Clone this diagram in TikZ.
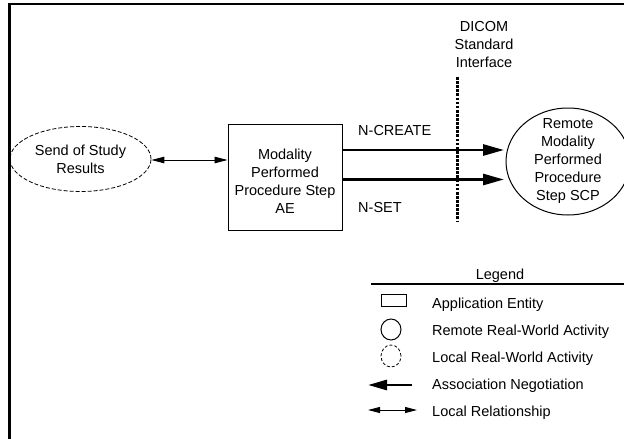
\documentclass[tikz,border=0pt]{standalone}
\usepackage{fontspec}
\setmainfont{Liberation Sans}
\usetikzlibrary{shapes.geometric,arrows.meta}

\begin{document}
\begin{tikzpicture}
  [x=1pt,y=-1pt,
   every node/.style={font=\fontsize{14.5}{18}\selectfont,align=center,inner sep=0pt},
   assoc/.style={line width=2.7pt,-{Triangle[length=21pt,width=11pt]}},
   localrel/.style={line width=0.9pt,{Triangle[length=13pt,width=6.5pt]}-{Triangle[length=13pt,width=6.5pt]}},
   localact/.style={ellipse,draw,dash pattern=on 4pt off 2pt,line width=0.8pt},
   remoteact/.style={ellipse,draw,line width=1pt},
   appent/.style={rectangle,draw,line width=1pt}]
  \useasboundingbox (0,0) rectangle (624,439);
  \draw[line width=2.7pt] (9.5,439) -- (9.5,4) -- (624,4);

  \node[localact,minimum width=141pt,minimum height=65pt] (send) at (80.5,159) {Send of Study\\Results};
  \node[appent,minimum width=114pt,minimum height=106pt] (mpps) at (285,177)
    {\rule{0pt}{19.6pt}Modality\\Performed\\Procedure Step\\AE};
  \node (scp) at (568,161.5) {Remote\\Modality\\Performed\\Procedure\\Step SCP};
  \draw[line width=1pt] (scp.center) ellipse [x radius=62pt,y radius=53.5pt];
  \node (dicom) at (484,45) {DICOM\\Standard\\Interface};
  \node[anchor=base west] (create) at (358,135.3) {N-CREATE};
  \node[anchor=base west] (nset) at (358,212.3) {N-SET};

  \draw[line width=3pt,dash pattern=on 2.7pt off 1.4pt] (457,77) -- (457,222);
  \draw[localrel] ([yshift=-1pt]send.east) -- ([yshift=-1pt]send.east -| mpps.west);
  \draw[assoc] ([yshift=27pt]mpps.east) -- ([xshift=-64pt,yshift=11.5pt]scp.center);
  \draw[assoc] ([yshift=-2.5pt]mpps.east) -- ([xshift=-64pt,yshift=-18pt]scp.center);

  % legend
  \node[anchor=base] (legend) at (500,279) {Legend};
  \draw[line width=1.8pt] (371,284) -- (624,284);
  \node[appent,minimum width=25pt,minimum height=12pt] (kae) at (393.5,300) {};
  \node[remoteact,minimum width=20pt,minimum height=21pt] (kra) at (391,329.5) {};
  \node[localact,dash pattern=on 3pt off 2pt,minimum width=20pt,minimum height=22pt] (kla) at (391,356) {};
  \coordinate (kan1) at (412,385);
  \coordinate (kan2) at (368,385);
  \coordinate (klr1) at (368,410);
  \coordinate (klr2) at (417,410);
  \draw[assoc,-{Triangle[length=19pt,width=10pt]}] (kan1) -- (kan2);
  \draw[localrel,{Triangle[length=12pt,width=6pt]}-{Triangle[length=12pt,width=6pt]}] (klr1) -- (klr2);
  \foreach \y/\txt in {303/Application Entity,330/Remote Real-World Activity,
      357/Local Real-World Activity,384/Association Negotiation,411/Local Relationship}
    \node[anchor=base west] at (432,\y+5.2) {\txt};
\end{tikzpicture}
\end{document}
